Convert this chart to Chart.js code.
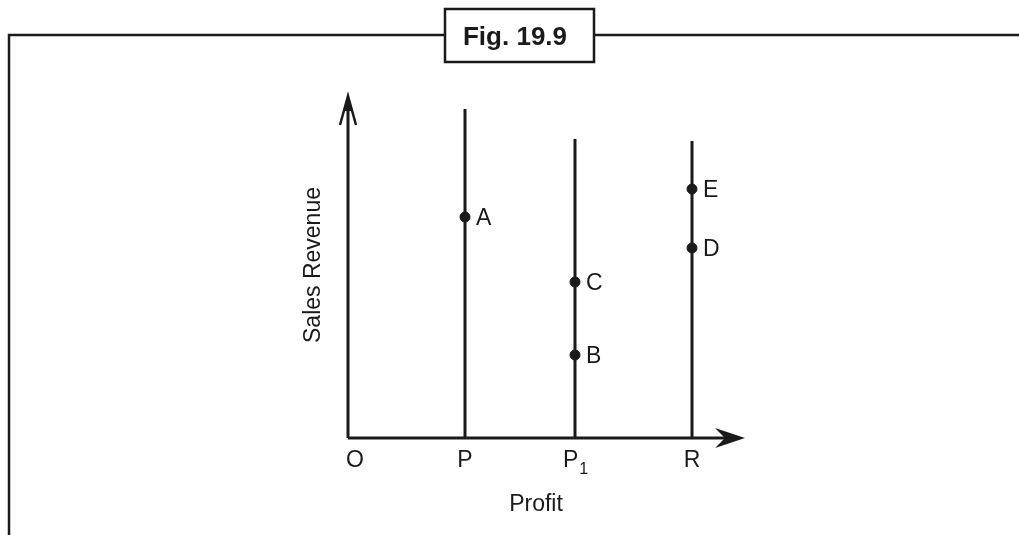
<!DOCTYPE html>
<html>
<head>
<meta charset="utf-8">
<title>Fig. 19.9</title>
<script src="https://cdn.jsdelivr.net/npm/chart.js@4"></script>
<style>
  html, body { margin: 0; padding: 0; background: #fff; }
  #wrap { width: 1019px; height: 535px; position: relative; }
</style>
</head>
<body>
<div id="wrap"><canvas id="fig"></canvas></div>
<script>
// profit positions (x) of the vertical lines, origin first
const posLabels = ['O', 'P', 'P1', 'R'];
const posValues = [0, 117, 227, 344];
// how far each vertical line reaches up (sales revenue units)
const lineTops = [null, 329, 299, 297];

// marked points on the lines
const pointNames = ['A', 'C', 'B', 'E', 'D'];
const pointX = [117, 227, 227, 344, 344];
const pointY = [221, 156, 83, 249, 190];

const axisYTop = 342;
const axisXEnd = 397;

const ink = '#1a1a1a';
const font = '"Liberation Sans", Arial, sans-serif';

// one line dataset per vertical line
const lineSets = [];
for (let i = 1; i < posValues.length; i++) {
    lineSets.push({
        type: 'line',
        data: [{ x: posValues[i], y: 0 }, { x: posValues[i], y: lineTops[i] }],
        borderColor: ink,
        borderWidth: 3,
        pointRadius: 0,
        fill: false
    });
}

const pointSet = {
    type: 'scatter',
    data: pointX.map((x, i) => ({ x: x, y: pointY[i] })),
    backgroundColor: ink,
    borderColor: ink,
    pointRadius: 5,
    pointHoverRadius: 5
};

// frame, title box, axes with arrows and all text
const figPlugin = {
    id: 'figDecor',
    afterDatasetsDraw(chart) {
        const c = chart.ctx;
        const xs = chart.scales.x, ys = chart.scales.y;
        const ox = xs.getPixelForValue(0), oy = ys.getPixelForValue(0);
        c.save();
        c.strokeStyle = ink;
        c.fillStyle = ink;
        c.lineCap = 'butt';

        // outer frame
        c.lineWidth = 2.5;
        c.beginPath();
        c.moveTo(9, 540);
        c.lineTo(9, 35);
        c.lineTo(445, 35);
        c.moveTo(594, 35);
        c.lineTo(1025, 35);
        c.stroke();
        c.strokeRect(445, 9, 149, 53);
        c.font = 'bold 26px ' + font;
        c.textAlign = 'center';
        c.textBaseline = 'alphabetic';
        c.fillText('Fig. 19.9', 515, 45);

        // axes
        const ty = ys.getPixelForValue(axisYTop);
        const tx = xs.getPixelForValue(axisXEnd);
        c.lineWidth = 3;
        c.beginPath();
        c.moveTo(ox, oy);
        c.lineTo(ox, ty + 4);
        c.moveTo(ox, oy);
        c.lineTo(tx - 8, oy);
        c.stroke();

        // y arrow head
        c.lineWidth = 2.5;
        c.beginPath();
        c.moveTo(ox - 8, ty + 29);
        c.lineTo(ox, ty);
        c.lineTo(ox + 8, ty + 29);
        c.stroke();
        c.beginPath();
        c.moveTo(ox, ty);
        c.lineTo(ox - 4, ty + 15);
        c.lineTo(ox + 4, ty + 15);
        c.closePath();
        c.fill();

        // x arrow head
        c.beginPath();
        c.moveTo(tx, oy);
        c.lineTo(tx - 30, oy - 10);
        c.lineTo(tx - 20, oy);
        c.lineTo(tx - 30, oy + 10);
        c.closePath();
        c.fill();

        // position labels under the x axis
        c.textBaseline = 'alphabetic';
        posLabels.forEach((lab, i) => {
            const px = xs.getPixelForValue(posValues[i]);
            const base = lab.replace(/[0-9]+$/, '');
            const sub = lab.slice(base.length);
            c.font = '23px ' + font;
            if (i === 0) {
                c.textAlign = 'left';
                c.fillText(base, px - 2, oy + 29);
                return;
            }
            const bw = c.measureText(base).width;
            c.font = '16px ' + font;
            const sw = sub ? c.measureText(sub).width : 0;
            const left = px - (bw + sw) / 2;
            c.textAlign = 'left';
            c.font = '23px ' + font;
            c.fillText(base, left, oy + 29);
            if (sub) {
                c.font = '16px ' + font;
                c.fillText(sub, left + bw + 1, oy + 36);
            }
        });

        // axis titles
        c.font = '23px ' + font;
        c.textAlign = 'center';
        c.fillText('Profit', 536, 511);
        c.save();
        c.translate(320, 265);
        c.rotate(-Math.PI / 2);
        c.textBaseline = 'alphabetic';
        c.fillText('Sales Revenue', 0, 0);
        c.restore();

        // point names
        c.textAlign = 'left';
        c.textBaseline = 'middle';
        pointNames.forEach((n, i) => {
            const px = xs.getPixelForValue(pointX[i]);
            const py = ys.getPixelForValue(pointY[i]);
            c.fillText(n, px + 11, py + 2);
        });
        c.restore();
    }
};

const ctx = document.getElementById('fig').getContext('2d');
new Chart(ctx, {
    type: 'scatter',
    data: { datasets: lineSets.concat([pointSet]) },
    options: {
        responsive: true,
        maintainAspectRatio: false,
        animation: false,
        layout: { padding: { left: 248, right: 171, top: 38, bottom: 97 } },
        plugins: { legend: { display: false }, tooltip: { enabled: false } },
        scales: {
            x: { type: 'linear', min: -100, max: 500, display: false },
            y: { type: 'linear', min: 0, max: 400, display: false }
        }
    },
    plugins: [figPlugin]
});
</script>
</body>
</html>
